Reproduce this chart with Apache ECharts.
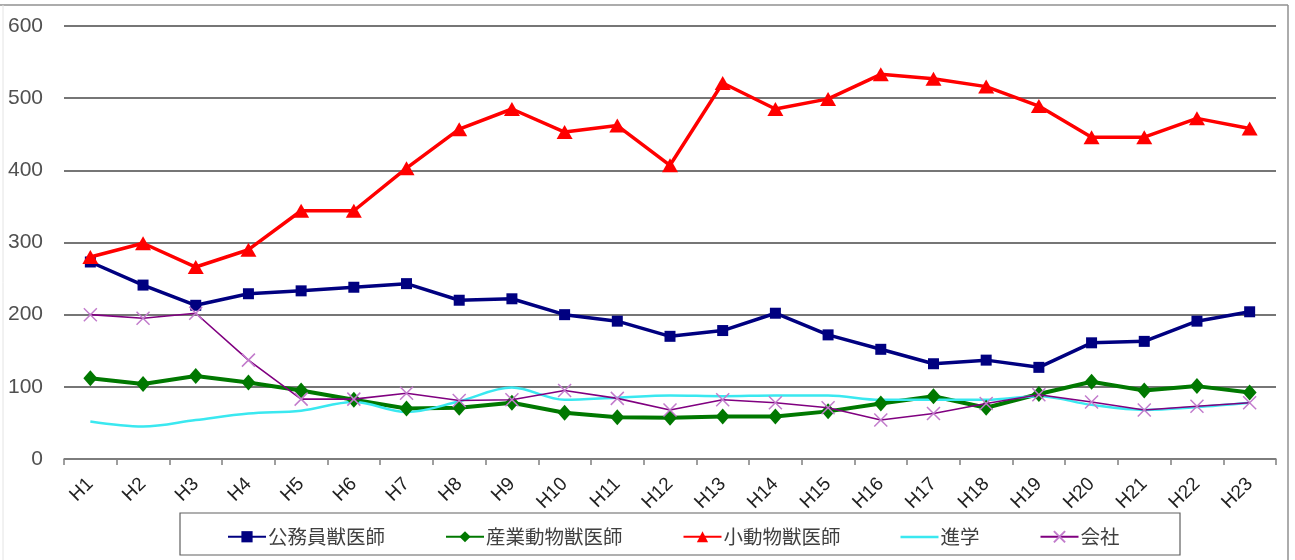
<!DOCTYPE html>
<html>
<head>
<meta charset="utf-8">
<script src="https://cdn.jsdelivr.net/npm/echarts@6/dist/echarts.min.js"></script>
<style>
  html, body { margin: 0; padding: 0; background: #ffffff; }
  #chart { width: 1295px; height: 560px; }
</style>
</head>
<body>
<div id="chart"></div>
<script>
// Fiscal years (Heisei era)
const years = ['H1','H2','H3','H4','H5','H6','H7','H8','H9','H10','H11','H12',
               'H13','H14','H15','H16','H17','H18','H19','H20','H21','H22','H23'];

// Number of graduates by career path
const publicVets   = [273, 241, 213, 229, 233, 238, 243, 220, 222, 200, 191, 170, 178, 202, 172, 152, 132, 137, 127, 161, 163, 191, 204];
const livestockVets = [112, 104, 115, 106, 95, 82, 70, 71, 78, 64, 58, 57, 59, 59, 66, 77, 87, 71, 90, 107, 95, 101, 92];
const smallAnimalVets = [280, 299, 266, 290, 344, 344, 403, 457, 485, 453, 462, 407, 521, 485, 499, 533, 527, 516, 489, 446, 446, 472, 458];
const furtherStudy = [52, 45, 54, 63, 67, 79, 65, 80, 99, 82, 85, 88, 87, 88, 88, 82, 82, 82, 87, 75, 68, 72, 78];
const companies    = [200, 195, 202, 137, 83, 83, 91, 81, 82, 95, 84, 68, 82, 78, 71, 54, 63, 77, 89, 79, 68, 73, 78];

const seriesNames = ['公務員獣医師', '産業動物獣医師', '小動物獣医師', '進学', '会社'];
const yTicks = { min: 0, max: 600, step: 100 };

const chart = echarts.init(document.getElementById('chart'), null, { renderer: 'canvas' });

// X-shaped marker for the company series
const crossPath = 'path://M0,0 L10,10 M10,0 L0,10';
// plain line legend icon (bounding points keep it thin inside the icon box)
const plainLineIcon = 'path://M0,0 L0,0 M0,6 L38,6 L38,8.5 L0,8.5 Z M38,14 L38,14';

chart.setOption({
  animation: false,
  backgroundColor: '#ffffff',
  textStyle: { fontFamily: 'Liberation Sans, Arial, sans-serif' },
  grid: { left: 64, right: 19, top: 26, bottom: 101, containLabel: false },
  xAxis: {
    type: 'category',
    data: years,
    boundaryGap: true,
    axisLine: { show: true, lineStyle: { color: '#808080', width: 1.5 } },
    axisTick: { show: true, length: 6, interval: 0, lineStyle: { color: '#808080', width: 1.5 } },
    axisLabel: {
      interval: 0, rotate: 45, margin: 22,
      color: '#222222', fontSize: 19,
      fontFamily: 'Liberation Sans, Arial, sans-serif'
    },
    splitLine: { show: false }
  },
  yAxis: {
    type: 'value',
    min: yTicks.min, max: yTicks.max, interval: yTicks.step,
    axisLine: { show: false },
    axisTick: { show: false },
    axisLabel: { color: '#505050', fontSize: 21, margin: 21,
                 fontFamily: 'Liberation Sans, Arial, sans-serif' },
    splitLine: { show: true, lineStyle: { color: '#767676', width: 1.8 } }
  },
  legend: {
    data: [
      { name: seriesNames[0] },
      { name: seriesNames[1] },
      { name: seriesNames[2] },
      { name: seriesNames[3], icon: plainLineIcon, itemStyle: { color: '#3ae8f0' } },
      { name: seriesNames[4] }
    ],
    left: 222, top: 522,
    itemWidth: 38, itemHeight: 14, itemGap: 60,
    textStyle: { fontFamily: 'Noto Sans CJK JP', fontSize: 19.5, color: '#404040', padding: [0, 0, 0, -3] }
  },
  graphic: [
    { type: 'rect', shape: { x: 180, y: 513, width: 1000, height: 42 },
      style: { fill: 'none', stroke: '#606060', lineWidth: 1.2 }, silent: true, z: -1 },
    { type: 'line', shape: { x1: 0, y1: 5, x2: 1288, y2: 5 },
      style: { stroke: '#909090', lineWidth: 1.5 }, silent: true },
    { type: 'line', shape: { x1: 1288, y1: 5, x2: 1288, y2: 560 },
      style: { stroke: '#909090', lineWidth: 1.5 }, silent: true },
    { type: 'line', shape: { x1: 3, y1: 5, x2: 3, y2: 560 },
      style: { stroke: '#e4e4e4', lineWidth: 1 }, silent: true }
  ],
  series: [
    {
      name: seriesNames[0], type: 'line', data: publicVets,
      symbol: 'rect', symbolSize: 11,
      lineStyle: { color: '#000080', width: 3.5 },
      itemStyle: { color: '#000080' }, z: 3
    },
    {
      name: seriesNames[1], type: 'line', data: livestockVets,
      symbol: 'diamond', symbolSize: [14, 16],
      lineStyle: { color: '#007800', width: 4 },
      itemStyle: { color: '#007800' }, z: 3
    },
    {
      name: seriesNames[2], type: 'line', data: smallAnimalVets,
      symbol: 'triangle', symbolSize: [16, 14],
      lineStyle: { color: '#ff0000', width: 3.5 },
      itemStyle: { color: '#ff0000' }, z: 4
    },
    {
      name: seriesNames[3], type: 'line', data: furtherStudy,
      symbol: 'none', showSymbol: false, smooth: 0.35,
      lineStyle: { color: '#3ae8f0', width: 2.5 },
      itemStyle: { color: '#3ae8f0' }, z: 3
    },
    {
      name: seriesNames[4], type: 'line', data: companies,
      symbol: crossPath, symbolSize: 13,
      lineStyle: { color: '#800080', width: 1.6 },
      itemStyle: { color: '#cc88d4', borderColor: '#c27ccc', borderWidth: 1.5 }, z: 5
    }
  ]
});
</script>
</body>
</html>
